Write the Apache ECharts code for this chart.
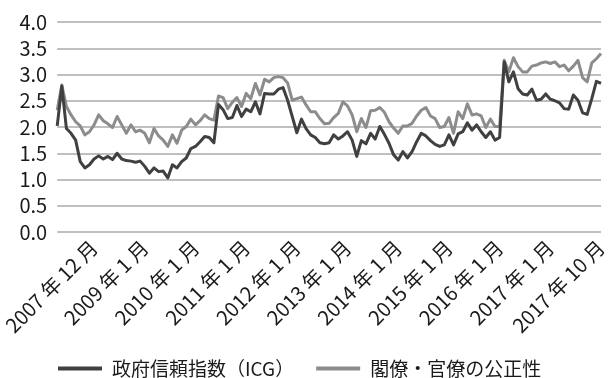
<!DOCTYPE html>
<html lang="ja">
<head>
<meta charset="utf-8">
<title>政府信頼指数（ICG）と閣僚・官僚の公正性</title>
<script src="https://cdn.jsdelivr.net/npm/echarts@6/dist/echarts.min.js"></script>
<style>
  html, body { margin: 0; padding: 0; background: #fff; }
  #chart { width: 611px; height: 378px; }
</style>
</head>
<body>
<div id="chart"></div>
<script>
// Monthly series, 2007-12 through 2017-10 (119 months)
const startYear = 2007, startMonth = 12, monthCount = 119;
const months = [];
for (let k = 0; k < monthCount; k++) {
  const m = startMonth - 1 + k;
  months.push((startYear + Math.floor(m / 12)) + '年' + (m % 12 + 1) + '月');
}

// 政府信頼指数（ICG）
const icg = [
  2.02, 2.78, 1.97, 1.88, 1.75, 1.34, 1.22, 1.28, 1.39, 1.45,
  1.39, 1.44, 1.38, 1.50, 1.39, 1.36, 1.35, 1.33, 1.35, 1.25,
  1.12, 1.22, 1.15, 1.16, 1.03, 1.28, 1.22, 1.34, 1.41, 1.59,
  1.63, 1.72, 1.82, 1.80, 1.70, 2.43, 2.33, 2.16, 2.18, 2.41,
  2.20, 2.34, 2.29, 2.48, 2.25, 2.64, 2.63, 2.63, 2.72, 2.75,
  2.51, 2.20, 1.89, 2.15, 1.97, 1.85, 1.80, 1.70, 1.68, 1.70,
  1.85, 1.77, 1.83, 1.91, 1.75, 1.44, 1.74, 1.68, 1.88, 1.77,
  2.01, 1.86, 1.69, 1.47, 1.37, 1.53, 1.41, 1.53, 1.72, 1.88,
  1.83, 1.74, 1.67, 1.63, 1.66, 1.85, 1.66, 1.87, 1.91, 2.08,
  1.94, 2.04, 1.91, 1.80, 1.91, 1.75, 1.80, 3.24, 2.86, 3.05,
  2.73, 2.63, 2.61, 2.72, 2.51, 2.53, 2.63, 2.53, 2.50, 2.46,
  2.35, 2.34, 2.61, 2.51, 2.27, 2.24, 2.54, 2.87, 2.83
];

// 閣僚・官僚の公正性
const integrity = [
  2.32, 2.80, 2.39, 2.23, 2.10, 2.02, 1.85, 1.91, 2.04, 2.23,
  2.12, 2.06, 1.99, 2.20, 2.04, 1.88, 2.04, 1.91, 1.94, 1.88,
  1.70, 1.97, 1.83, 1.75, 1.63, 1.85, 1.69, 1.94, 2.01, 2.15,
  2.04, 2.12, 2.23, 2.16, 2.13, 2.59, 2.56, 2.35, 2.47, 2.56,
  2.39, 2.64, 2.54, 2.83, 2.61, 2.91, 2.86, 2.94, 2.96, 2.94,
  2.84, 2.51, 2.54, 2.57, 2.42, 2.29, 2.29, 2.16, 2.06, 2.07,
  2.18, 2.26, 2.48, 2.40, 2.23, 1.91, 2.16, 1.99, 2.31, 2.32,
  2.37, 2.28, 2.10, 1.98, 1.88, 2.02, 2.02, 2.07, 2.21, 2.32,
  2.37, 2.21, 2.16, 1.99, 2.01, 2.18, 1.88, 2.29, 2.16, 2.44,
  2.23, 2.25, 2.21, 1.99, 2.15, 2.01, 2.01, 3.27, 3.05, 3.32,
  3.15, 3.05, 3.05, 3.16, 3.18, 3.22, 3.24, 3.21, 3.24, 3.15,
  3.18, 3.07, 3.16, 3.27, 2.94, 2.86, 3.22, 3.30, 3.40
];

// Axis tick labels and the category slots they sit on
const tickLabels = [
  '2007 年 12 月', '2009 年 1 月', '2010 年 1 月', '2011 年 1 月', '2012 年 1 月', '2013 年 1 月',
  '2014 年 1 月', '2015 年 1 月', '2016 年 1 月', '2017 年 1 月', '2017 年 10 月'
];
const tickIndex = [8, 19, 30, 41, 52, 63, 74, 85, 96, 107, 118];

const seriesNames = ['政府信頼指数（ICG）', '閣僚・官僚の公正性'];
const seriesColors = ['#404040', '#8c8c8c'];

const FONT = '"Noto Sans CJK JP", "Noto Sans", sans-serif';

const chart = echarts.init(document.getElementById('chart'), null, { renderer: 'canvas' });

chart.setOption({
  animation: false,
  backgroundColor: '#ffffff',
  textStyle: { fontFamily: FONT },
  grid: { left: 52, right: 10, top: 22, bottom: 146, containLabel: false },
  legend: {
    top: 359,
    left: 58,
    padding: 0,
    icon: 'rect',
    itemWidth: 44,
    itemHeight: 4,
    itemGap: 22,
    textStyle: { fontFamily: FONT, fontSize: 19, color: '#1a1a1a', padding: [0, 0, 0, 5] },
    data: seriesNames
  },
  xAxis: {
    type: 'category',
    data: months,
    boundaryGap: false,
    axisLine: { show: false },
    axisTick: { show: false },
    splitLine: { show: false },
    axisLabel: {
      rotate: 45,
      margin: 12,
      fontFamily: FONT,
      fontSize: 20,
      color: '#1a1a1a',
      interval: (i) => tickIndex.includes(i),
      formatter: (value, i) => {
        const k = tickIndex.indexOf(i);
        return k >= 0 ? tickLabels[k] : '';
      }
    }
  },
  yAxis: {
    type: 'value',
    min: 0,
    max: 4,
    interval: 0.5,
    axisLine: { show: false },
    axisTick: { show: false },
    axisLabel: {
      margin: 10,
      fontFamily: FONT,
      fontSize: 20,
      color: '#1a1a1a',
      formatter: (v) => v.toFixed(1)
    },
    splitLine: { lineStyle: { color: '#bfbfbf', width: 2 } }
  },
  series: [
    {
      name: seriesNames[0],
      type: 'line',
      data: icg,
      z: 3,
      symbol: 'none',
      lineStyle: { color: seriesColors[0], width: 3, join: 'round' },
      itemStyle: { color: seriesColors[0] }
    },
    {
      name: seriesNames[1],
      type: 'line',
      data: integrity,
      z: 2,
      symbol: 'none',
      lineStyle: { color: seriesColors[1], width: 3, join: 'round' },
      itemStyle: { color: seriesColors[1] }
    }
  ]
});
</script>
</body>
</html>
